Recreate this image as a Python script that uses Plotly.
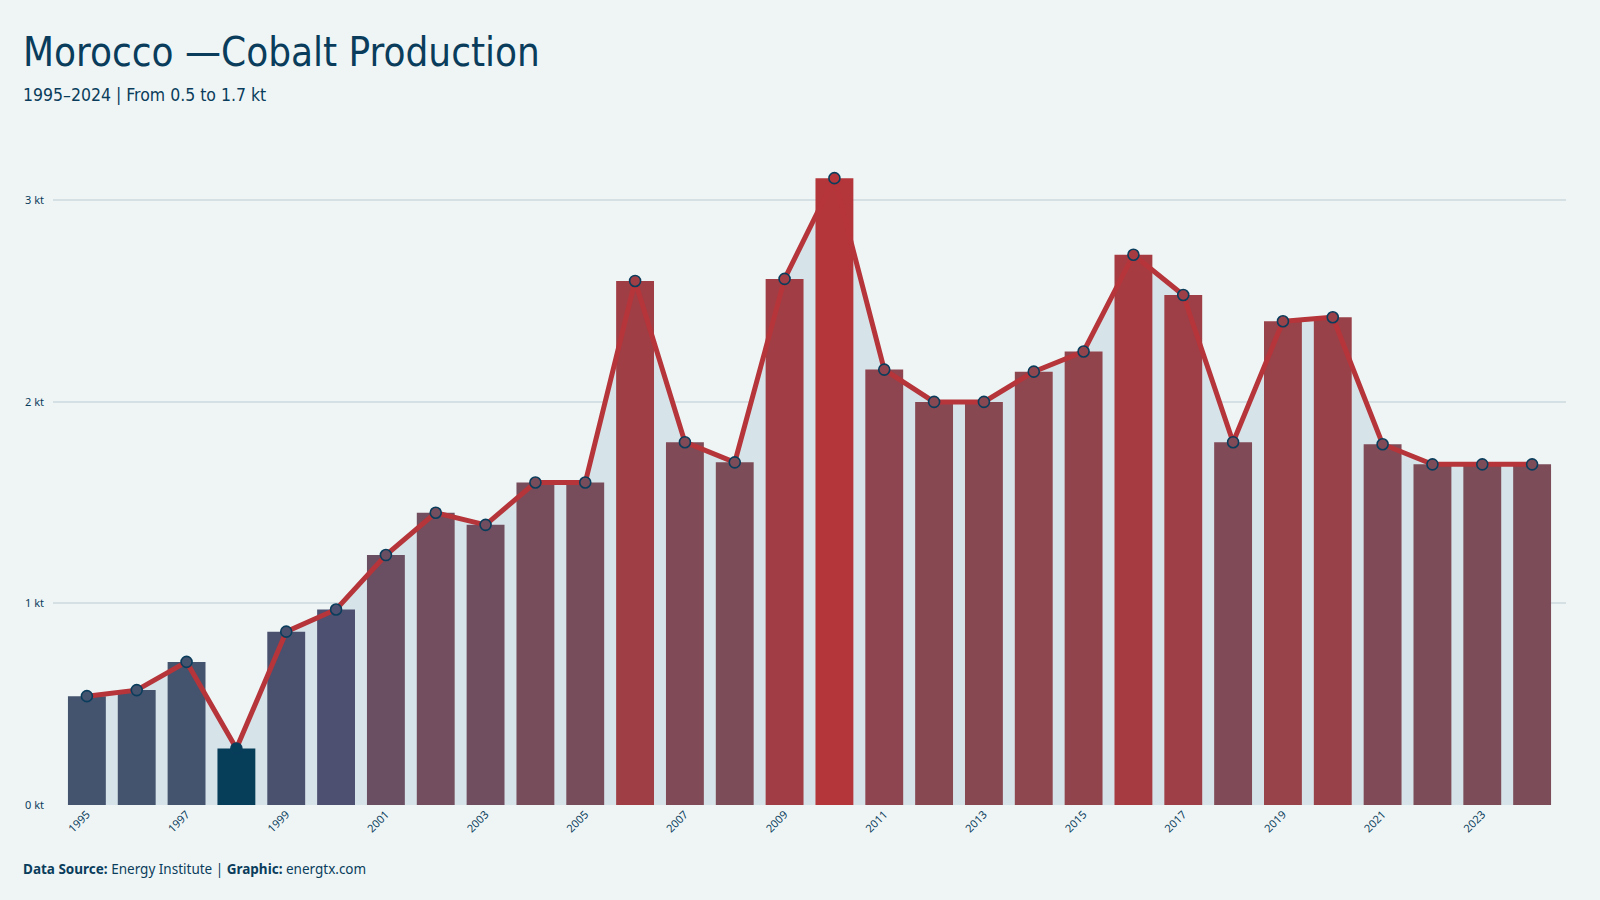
import plotly.graph_objects as go

years = list(range(1995, 2025))
production_kt = [0.54, 0.57, 0.71, 0.28, 0.86, 0.97, 1.24, 1.45, 1.39, 1.60,
                 1.60, 2.60, 1.80, 1.70, 2.61, 3.11, 2.16, 2.00, 2.00, 2.15,
                 2.25, 2.73, 2.53, 1.80, 2.40, 2.42, 1.79, 1.69, 1.69, 1.69]
y_tick_vals = [0, 1, 2, 3]
y_tick_text = ["0 kt", "1 kt", "2 kt", "3 kt"]
x_tick_vals = list(range(1995, 2025, 2))

NAVY = "#0a3d5c"
BG = "#eff5f5"
colorscale = [[0.0, "#063d59"], [0.001, "#44536e"], [0.15, "#44536e"], [0.245, "#4d5070"],
              [0.34, "#6a4f62"], [0.5, "#7c4d59"], [1.0, "#b5363a"]]
cmin, cmax = min(production_kt), max(production_kt)

XR = [1994.32, 2024.68]
YR = [0, 3.2]

fig = go.Figure()
fig.add_trace(go.Scatter(
    x=years, y=production_kt, mode="lines", fill="tozeroy",
    fillcolor="#d6e3e8", line=dict(width=0), hoverinfo="skip",
    xaxis="x", yaxis="y", showlegend=False))
fig.add_trace(go.Bar(
    x=years, y=production_kt, width=0.76,
    marker=dict(color=production_kt, colorscale=colorscale, cmin=cmin, cmax=cmax,
                line=dict(width=0)),
    xaxis="x2", yaxis="y2", showlegend=False))
fig.add_trace(go.Scatter(
    x=years, y=production_kt, mode="lines+markers",
    line=dict(color="#b5353a", width=5),
    marker=dict(size=11, color=production_kt, colorscale=colorscale, cmin=cmin, cmax=cmax,
                line=dict(color=NAVY, width=1.6)),
    xaxis="x2", yaxis="y2", showlegend=False))

tick_font = dict(family="Noto Sans, Open Sans, sans-serif", size=11, color=NAVY)
fig.update_layout(
    width=1600, height=900,
    paper_bgcolor=BG, plot_bgcolor=BG,
    margin=dict(l=53, r=34, t=160, b=95),
    xaxis=dict(range=XR, tickvals=x_tick_vals, ticktext=[str(v) for v in x_tick_vals],
               tickangle=-45, tickfont=tick_font, showgrid=False, zeroline=False,
               showline=False, ticks=""),
    yaxis=dict(range=YR, tickvals=y_tick_vals, ticktext=y_tick_text, tickfont=tick_font,
               showgrid=True, gridcolor="#d5e0e5", gridwidth=1.5, zeroline=False,
               showline=False, ticks="", ticklabelstandoff=8),
    xaxis2=dict(range=XR, overlaying="x", visible=False),
    yaxis2=dict(range=YR, overlaying="y", visible=False),
    bargap=0.24,
    annotations=[
        dict(text="Morocco —Cobalt Production", xref="paper", yref="paper",
             x=-0.0212, y=1.168, xanchor="left", yanchor="middle", showarrow=False,
             font=dict(family="DejaVu Sans Condensed, sans-serif",
                       size=40, color=NAVY)),
        dict(text="1995–2024 | From 0.5 to 1.7 kt", xref="paper", yref="paper",
             x=-0.0212, y=1.1008, xanchor="left", yanchor="middle", showarrow=False,
             font=dict(family="DejaVu Sans Condensed, sans-serif",
                       size=17.5, color=NAVY)),
        dict(text="<b>Data Source:</b> Energy Institute | <b>Graphic:</b> energtx.com",
             xref="paper", yref="paper", x=-0.0212, y=-0.0992, xanchor="left",
             yanchor="middle", showarrow=False,
             font=dict(family="Noto Sans, Open Sans, sans-serif", size=13.5, color=NAVY)),
    ],
)

fig.write_html("out.html")
